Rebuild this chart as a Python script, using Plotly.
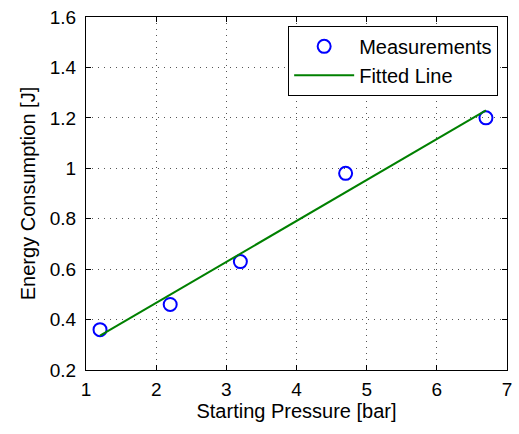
import plotly.graph_objects as go

pressure = [1.2, 2.2, 3.2, 4.7, 6.7]
energy = [0.36, 0.46, 0.63, 0.98, 1.20]
fit_x = [1.2, 6.7]
fit_y = [0.336, 1.23]
x_ticks = [1, 2, 3, 4, 5, 6, 7]
y_ticks = [0.2, 0.4, 0.6, 0.8, 1.0, 1.2, 1.4, 1.6]
y_tick_labels = ["0.2", "0.4", "0.6", "0.8", "1", "1.2", "1.4", "1.6"]

fig = go.Figure()
fig.add_trace(go.Scatter(
    x=pressure, y=energy, mode="markers", name="Measurements",
    marker=dict(symbol="circle-open", size=13, color="#0000ff", line=dict(width=2, color="#0000ff")),
))
fig.add_trace(go.Scatter(
    x=fit_x, y=fit_y, mode="lines", name="Fitted Line",
    line=dict(color="#008000", width=2),
))

font_family = "Liberation Sans, Arial, sans-serif"
axis_common = dict(
    showline=True, linecolor="black", linewidth=1, mirror="allticks",
    ticks="inside", ticklen=5, tickcolor="black", tickwidth=1,
    showgrid=True, gridcolor="#555555", griddash="1px,5px", gridwidth=1,
    zeroline=False, tickfont=dict(size=19, color="black", family=font_family),
)
fig.update_layout(
    width=519, height=434,
    margin=dict(l=86, r=7, t=15, b=64),
    paper_bgcolor="white", plot_bgcolor="white",
    font=dict(family=font_family, color="black"),
    xaxis=dict(range=[1, 7], tickvals=x_ticks, ticktext=[str(v) for v in x_ticks],
               title=dict(text="Starting Pressure [bar]", font=dict(size=20), standoff=3),
               ticklabelstandoff=2,
               **axis_common),
    yaxis=dict(range=[0.2, 1.6], tickvals=y_ticks, ticktext=y_tick_labels,
               title=dict(text="Energy Consumption [J]", font=dict(size=20), standoff=8),
               ticklabelstandoff=5,
               **axis_common),
    legend=dict(x=0.979, y=0.975, xanchor="right", yanchor="top",
                bordercolor="black", borderwidth=1, bgcolor="white",
                font=dict(size=20, color="black", family=font_family),
                tracegroupgap=0, itemwidth=60),
    showlegend=True,
)
fig.write_html("out.html")
